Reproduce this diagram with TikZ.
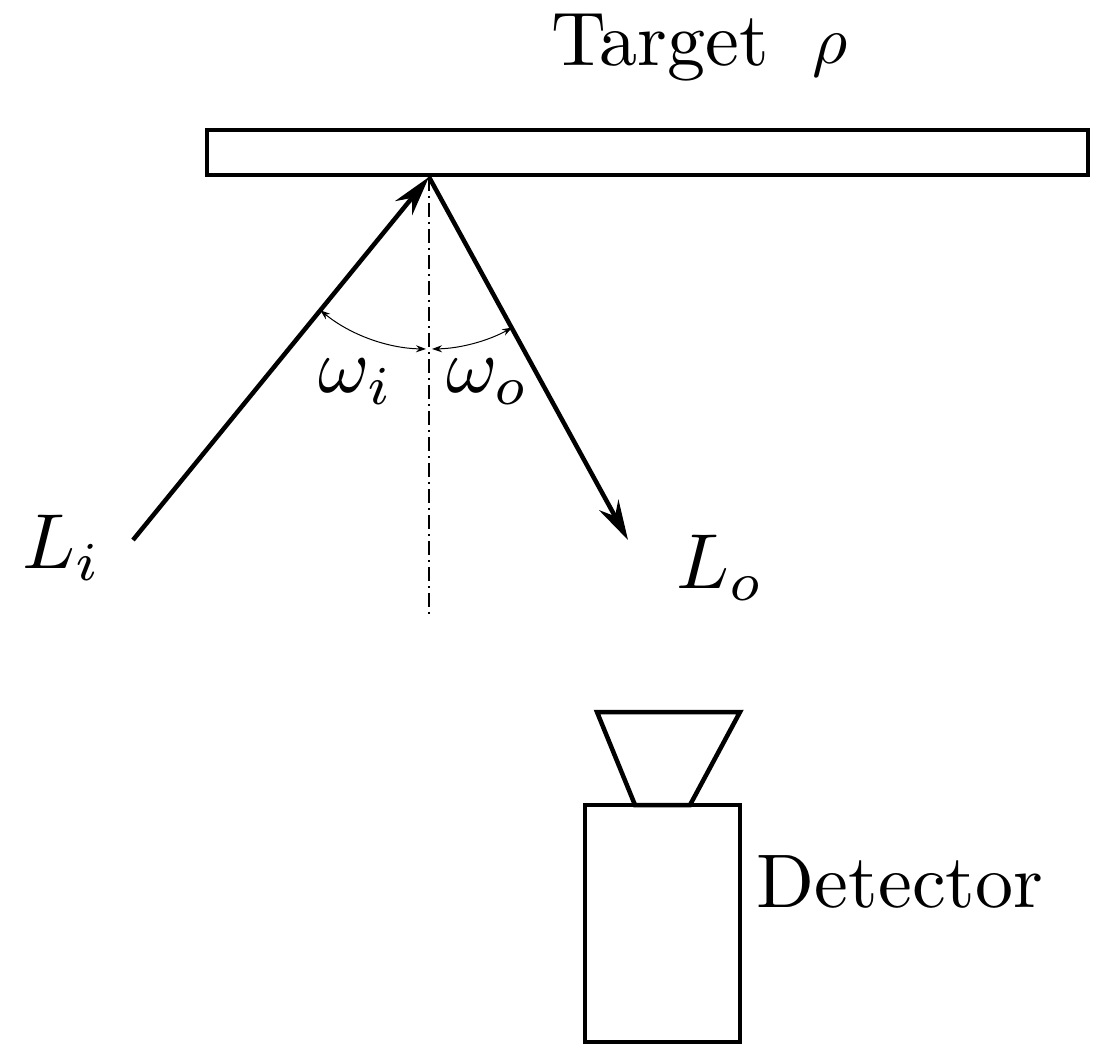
\documentclass[tikz,border=0pt]{standalone}
\usetikzlibrary{arrows.meta}
\newcommand{\mybigmath}[1]{\scalebox{7.8}{$#1$}}
\begin{document}
\begin{tikzpicture}[x=1pt,y=-1pt,
  ray/.style={line width=4.5pt,-{Stealth[length=40pt,width=22pt]}},
  thick/.style={line width=4.5pt},
  ang/.style={line width=1pt,{Stealth[length=10pt,width=7pt]}-{Stealth[length=10pt,width=7pt]}}]
\useasboundingbox (0,0) rectangle (1113,1064);
\draw[thick] (207,130) rectangle (1088,175);
\node (title) at (660,48) {\scalebox{7.6}{Target}};
\node (rho) at (830,55) {\scalebox{6.8}{$\rho$}};
\coordinate (hit) at (429,177);
\coordinate (li) at (133,540);
\coordinate (lo) at (628,540);
\draw[ray] (li) -- (hit);
\draw[ray] (hit) -- (lo);
\draw[line width=1.2pt,dash pattern=on 14pt off 5pt on 2pt off 5pt] (hit) -- (429,617);
\draw[ang] (hit) ++(129.2:172) arc[start angle=129.2,end angle=91,radius=172];
\draw[ang] (hit) ++(89:172) arc[start angle=89,end angle=61.1,radius=172];
\node (wi) at (356,382) {\mybigmath{\omega_i}};
\node (wo) at (488,382) {\mybigmath{\omega_o}};
\node (Li) at (62,548) {\mybigmath{L_i}};
\node (Lo) at (720,568) {\mybigmath{L_o}};
\draw[thick] (597,712) -- (740,712) -- (690,805) -- (635,805) -- cycle;
\draw[thick] (585,805) rectangle (740,1042);
\node (det) at (900,882) {\scalebox{7.6}{Detector}};
\end{tikzpicture}
\end{document}
